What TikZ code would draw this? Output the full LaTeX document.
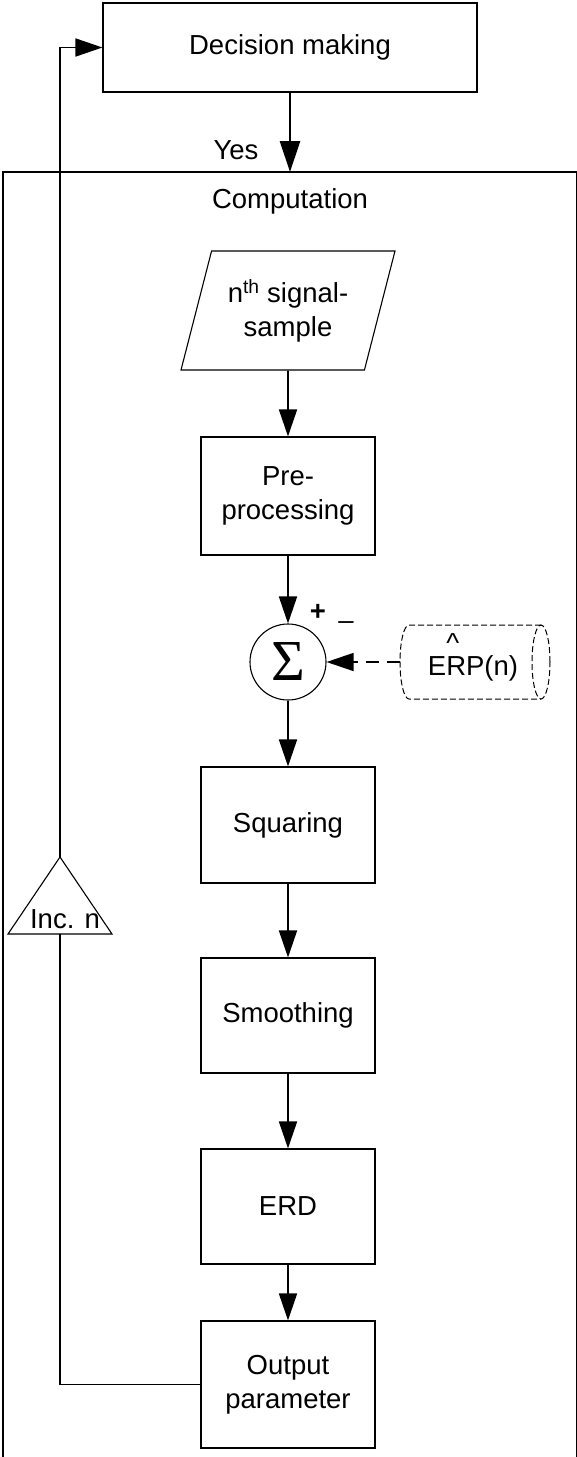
\documentclass[tikz,border=0pt]{standalone}
\usepackage{fontspec}
\setmainfont{Liberation Sans}
\newfontfamily\sigmafont{Liberation Serif}
\usetikzlibrary{arrows.meta,shapes.geometric}

\begin{document}
\begin{tikzpicture}[x=1pt,y=1pt,
  font=\fontsize{27.5}{34}\selectfont,
  blockbox/.style={draw, line width=1.1pt, minimum width=174pt, align=center, inner sep=0pt},
  flow/.style={line width=1.7pt, -{Triangle[length=27pt,width=18pt]}},
  bigflow/.style={line width=2.8pt, -{Triangle[length=31pt,width=20pt]}},
  dashflow/.style={line width=1.5pt, dash pattern=on 13pt off 8pt, -{Triangle[length=27pt,width=18pt]}},
  storeline/.style={line width=1pt, dash pattern=on 6pt off 3pt},
  loopline/.style={line width=1.7pt}]
\useasboundingbox (0,0) rectangle (577,-1457);
\clip (0,0) rectangle (577,-1457);

% outer block
\node[blockbox, minimum width=374pt, minimum height=89pt] (dec) at (290,-47.5) {Decision making};
\node[draw, line width=1.3pt, outer sep=0pt, minimum width=573.5pt, minimum height=1320pt,
      anchor=north west] (comp) at (3,-172) {};
\node (complabel) at (290,-201) {Computation};
\node (yes) at (236,-150) {Yes};
\draw[bigflow] (dec.south) -- (dec.south |- comp.north);

% processing chain
\node[trapezium, draw, line width=1.1pt, trapezium left angle=64, trapezium right angle=116,
      trapezium stretches body, minimum width=214pt, minimum height=119pt, inner sep=0pt,
      align=center] (sample) at (288,-310.5) {n\textsuperscript{th} signal-\\sample};
\node[blockbox, minimum height=118pt] (pre) at (288,-496) {Pre-\\processing};
\node[circle, draw, line width=1.1pt, minimum size=76pt, inner sep=0pt] (sum) at (288,-662)
      {\sigmafont\fontsize{58}{58}\selectfont Σ};
\node[font=\fontsize{27.5}{34}\selectfont\bfseries] (plus) at (318,-612) {+};
\node (minus) at (346,-626) {–};
\node[blockbox, minimum height=116pt] (sq) at (288,-825) {Squaring};
\node[blockbox, minimum height=115pt] (sm) at (288,-1015.5) {Smoothing};
\node[blockbox, minimum height=115pt] (erd) at (288,-1206.5) {ERD};
\node[blockbox, minimum height=127pt] (out) at (288,-1384.5) {Output\\parameter};

\draw[flow] (sample.south) -- (pre.north);
\draw[flow] (pre) -- (sum);
\draw[flow] (sum) -- (sq);
\draw[flow] (sq) -- (sm);
\draw[flow] (sm) -- (erd);
\draw[flow] (erd) -- (out);

% stored ERP estimate (dashed cylinder)
\draw[storeline] (541,-625) -- (409,-625)
  arc[start angle=90, end angle=270, x radius=9, y radius=37] -- (541,-699);
\draw[storeline] (541,-662) ellipse[x radius=9, y radius=37];
\coordinate (erpW) at (400,-662);
\node[anchor=base] (erp) at (473,-675) {E\rlap{\raisebox{0.82em}{\textasciicircum}}RP(n)};
\draw[dashflow] (erpW) -- (sum.east);

% increment and feedback loop
\coordinate (incT) at (60,-857);
\coordinate (incL) at (8,-934);
\coordinate (incR) at (112,-934);
\coordinate (incB) at (60,-934);
\draw[line width=1.1pt] (incT) -- (incR) -- (incL) -- cycle;
\node[anchor=base] (inc) at (65,-928) {Inc. n};
\draw[loopline] (out.west) -- (incB |- out.west) -- (incB);
\draw[flow] (incT) -- (incT |- dec.west) -- (dec.west);
\end{tikzpicture}
\end{document}
